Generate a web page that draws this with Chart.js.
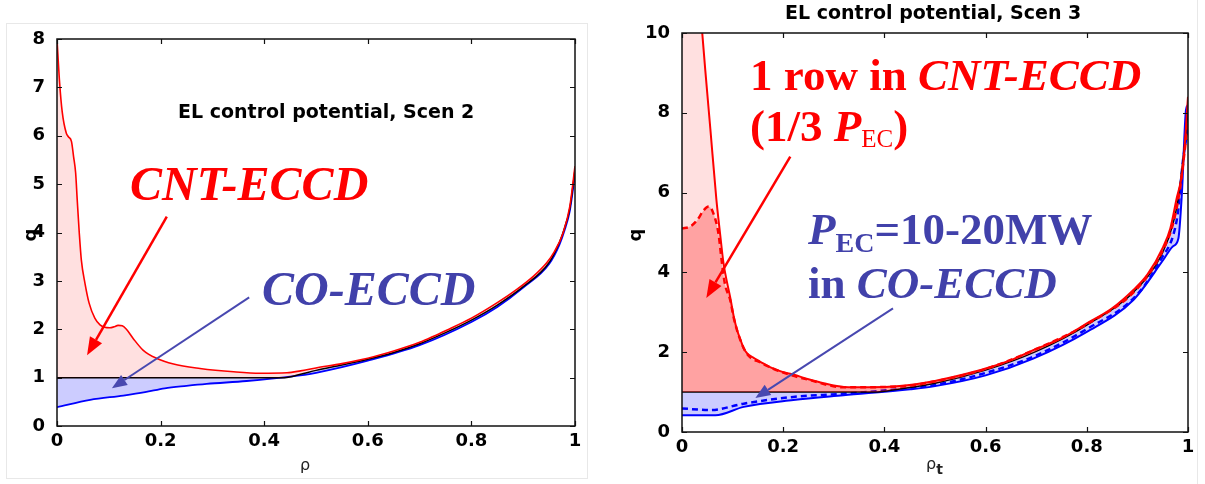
<!DOCTYPE html>
<html>
<head>
<meta charset="utf-8">
<script src="https://cdn.jsdelivr.net/npm/chart.js@4.4.1/dist/chart.umd.min.js"></script>
<style>
  html, body { margin: 0; padding: 0; background: #fff; }
  #wrap { position: relative; width: 1205px; height: 484px; overflow: hidden; background: #fff; }
  canvas { position: absolute; top: 0; }
  .t { position: absolute; white-space: nowrap; line-height: 1; z-index: 2; }
  .sans { font-family: "DejaVu Sans", sans-serif; font-weight: bold; color: #000; }
  .serif { font-family: "Liberation Serif", "Times New Roman", serif; font-weight: bold; }
  .red { color: #ff0000; }
  .blue { color: #4141aa; }
  .sub { line-height: 0; }
  .frame { position: absolute; border: 1px solid #e8e8e8; z-index: 0; }
</style>
</head>
<body>
<div id="wrap">
  <div class="frame" style="left:6px;top:23px;width:580px;height:454px;"></div>
  <div class="frame" style="left:1197px;top:0;width:0;height:484px;border-width:0 0 0 1px;"></div>

  <canvas id="scen2" width="600" height="484" style="left:0"></canvas>
  <canvas id="scen3" width="600" height="484" style="left:605px"></canvas>

  <!-- Scen 2 panel text -->
  <div class="t sans" style="left:178px;top:102px;font-size:19px;">EL control potential, Scen 2</div>
  <div class="t sans" style="left:10px;top:225px;width:40px;height:20px;line-height:20px;text-align:center;font-size:18px;transform:rotate(-90deg);">q</div>
  <div class="t" style="left:290px;top:457px;width:30px;text-align:center;font-family:'DejaVu Sans',sans-serif;font-size:16px;color:#222;">ρ</div>
  <div class="t serif red" style="left:130px;top:160px;font-size:48px;"><i>CNT-ECCD</i></div>
  <div class="t serif blue" style="left:262px;top:265px;font-size:48px;"><i>CO-ECCD</i></div>

  <!-- Scen 3 panel text -->
  <div class="t sans" style="left:785px;top:3px;font-size:19px;">EL control potential, Scen 3</div>
  <div class="t sans" style="left:615px;top:225px;width:40px;height:20px;line-height:20px;text-align:center;font-size:18px;transform:rotate(-90deg);">q</div>
  <div class="t" style="left:926px;top:456px;font-family:'DejaVu Sans',sans-serif;font-size:16px;color:#222;">ρ<span class="sub" style="font-weight:bold;font-size:14px;vertical-align:-5px;">t</span></div>
  <div class="t serif red" style="left:750px;top:53px;font-size:45px;">1 row in <i>CNT-ECCD</i></div>
  <div class="t serif red" style="left:750px;top:104px;font-size:45px;">(1/3 <i>P</i><span class="sub" style="font-weight:normal;font-size:25px;vertical-align:-6px;">EC</span>)</div>
  <div class="t serif blue" style="left:808px;top:207px;font-size:45px;"><i>P</i><span class="sub" style="font-size:28px;vertical-align:-8px;">EC</span>=10-20MW</div>
  <div class="t serif blue" style="left:808px;top:261px;font-size:45px;">in <i>CO-ECCD</i></div>
</div>

<script>
// ---- Tick values and labels ----
const xTickValues = [0, 0.2, 0.4, 0.6, 0.8, 1];
const xTickLabels = ['0', '0.2', '0.4', '0.6', '0.8', '1'];
const yTickValuesScen2 = [0, 1, 2, 3, 4, 5, 6, 7, 8];
const yTickLabelsScen2 = ['0', '1', '2', '3', '4', '5', '6', '7', '8'];
const yTickValuesScen3 = [0, 2, 4, 6, 8, 10];
const yTickLabelsScen3 = ['0', '2', '4', '6', '8', '10'];

// ---- Scen 2: q profiles vs rho ----
const rhoRefS2 = [0, 0.44, 0.47, 0.5, 0.55, 0.6, 0.65, 0.7, 0.75, 0.8, 0.85, 0.9, 0.95, 0.97, 0.98, 0.99, 1.0];
const qRefS2   = [1.0, 1.0, 1.07, 1.15, 1.26, 1.38, 1.52, 1.7, 1.93, 2.19, 2.5, 2.88, 3.38, 3.8, 4.1, 4.5, 5.3];

const rhoCntS2 = [0, 0.005, 0.010, 0.018, 0.022, 0.028, 0.032, 0.036, 0.039, 0.043, 0.047, 0.054, 0.062, 0.073, 0.083, 0.092, 0.102, 0.110, 0.118, 0.126, 0.134, 0.147, 0.166, 0.192, 0.225, 0.276, 0.341, 0.392, 0.444, 0.470, 0.500, 0.550, 0.600, 0.650, 0.700, 0.726, 0.750, 0.800, 0.850, 0.887, 0.920, 0.945, 0.960, 0.977, 0.990, 1.000];
const qCntS2   = [8.0, 7.1, 6.5, 6.05, 5.98, 5.88, 5.57, 5.23, 4.68, 3.99, 3.43, 2.95, 2.54, 2.23, 2.09, 2.04, 2.03, 2.05, 2.08, 2.07, 2.0, 1.81, 1.57, 1.40, 1.28, 1.19, 1.12, 1.09, 1.10, 1.14, 1.2, 1.29, 1.40, 1.55, 1.73, 1.85, 1.97, 2.23, 2.55, 2.82, 3.1, 3.37, 3.6, 3.99, 4.54, 5.37];

const rhoCoS2 = [0, 0.064, 0.128, 0.17, 0.208, 0.25, 0.289, 0.366, 0.45, 0.5, 0.6, 0.7, 0.8, 0.85, 0.9, 0.95, 0.97, 0.98, 0.99, 1.0];
const qCoS2   = [0.39, 0.54, 0.63, 0.7, 0.78, 0.83, 0.87, 0.93, 1.02, 1.1, 1.35, 1.67, 2.15, 2.46, 2.86, 3.35, 3.75, 4.05, 4.45, 5.2];

// ---- Scen 3: q profiles vs rho_t ----
const rhoRefS3 = [0, 0.38, 0.43, 0.5, 0.6, 0.7, 0.8, 0.9, 0.95, 0.97, 0.98, 0.99, 1.0];
const qRefS3   = [1.0, 1.0, 1.08, 1.22, 1.55, 2.02, 2.68, 3.6, 4.5, 5.2, 5.8, 6.8, 8.0];

const rhoCntS3 = [0, 0.03, 0.040, 0.046, 0.056, 0.068, 0.075, 0.082, 0.089, 0.095, 0.103, 0.109, 0.116, 0.122, 0.129, 0.14, 0.155, 0.175, 0.2, 0.22, 0.25, 0.28, 0.32, 0.368, 0.43, 0.5, 0.55, 0.6, 0.65, 0.694, 0.75, 0.8, 0.85, 0.892, 0.92, 0.951, 0.965, 0.977, 0.99, 1.0];
const qCntS3   = [16, 11.5, 10.0, 9.07, 7.6, 5.82, 5.0, 4.23, 3.75, 3.39, 2.85, 2.55, 2.3, 2.09, 1.97, 1.87, 1.76, 1.62, 1.5, 1.44, 1.32, 1.22, 1.13, 1.12, 1.15, 1.28, 1.42, 1.59, 1.8, 2.05, 2.35, 2.72, 3.1, 3.56, 3.95, 4.64, 5.1, 5.82, 6.65, 8.4];

const rhoCntDashS3 = [0, 0.016, 0.03, 0.043, 0.053, 0.062, 0.072, 0.079, 0.085, 0.095, 0.103, 0.116, 0.129, 0.155, 0.2, 0.25, 0.32, 0.43, 0.5, 0.6, 0.7, 0.8, 0.9, 0.95, 0.97, 0.983, 0.993, 1.0];
const qCntDashS3   = [5.1, 5.15, 5.31, 5.56, 5.65, 5.48, 4.98, 4.23, 3.7, 3.32, 2.82, 2.28, 1.95, 1.74, 1.49, 1.31, 1.12, 1.14, 1.27, 1.58, 2.08, 2.7, 3.6, 4.55, 5.2, 6.0, 7.0, 7.8];

const rhoCoS3 = [0, 0.066, 0.122, 0.22, 0.319, 0.451, 0.5, 0.6, 0.694, 0.8, 0.892, 0.951, 0.97, 0.981, 0.988, 0.996, 1.0];
const qCoS3   = [0.42, 0.42, 0.63, 0.8, 0.92, 1.07, 1.15, 1.42, 1.84, 2.51, 3.31, 4.31, 4.65, 4.85, 6.0, 8.07, 8.2];

const rhoCoDashS3 = [0, 0.056, 0.122, 0.22, 0.32, 0.45, 0.5, 0.6, 0.7, 0.8, 0.9, 0.95, 0.97, 0.98, 0.99, 1.0];
const qCoDashS3   = [0.59, 0.55, 0.71, 0.88, 0.96, 1.1, 1.18, 1.48, 1.92, 2.58, 3.45, 4.4, 4.9, 5.5, 6.8, 7.6];

const pts = (xs, ys) => xs.map((x, i) => ({ x, y: ys[i] }));

// Axes box with inward tick marks on all four sides, plus annotation arrows.
const axesBox = {
  id: 'axesBox',
  afterDatasetsDraw(chart, args, opts) {
    const { ctx, chartArea: a, scales: { x, y } } = chart;
    ctx.save();
    // arrows (given in data coordinates)
    (opts.arrows || []).forEach(ar => {
      const x0 = x.getPixelForValue(ar.from[0]), y0 = y.getPixelForValue(ar.from[1]);
      const x1 = x.getPixelForValue(ar.to[0]), y1 = y.getPixelForValue(ar.to[1]);
      const ang = Math.atan2(y1 - y0, x1 - x0);
      const hl = ar.headLength, hw = ar.headWidth;
      const bx = x1 - hl * Math.cos(ang), by = y1 - hl * Math.sin(ang);
      ctx.strokeStyle = ar.color; ctx.fillStyle = ar.color; ctx.lineWidth = ar.width;
      ctx.beginPath(); ctx.moveTo(x0, y0); ctx.lineTo(bx, by); ctx.stroke();
      ctx.beginPath();
      ctx.moveTo(x1, y1);
      ctx.lineTo(bx + hw * Math.sin(ang), by - hw * Math.cos(ang));
      ctx.lineTo(bx - hw * Math.sin(ang), by + hw * Math.cos(ang));
      ctx.closePath(); ctx.fill();
    });
    ctx.strokeStyle = '#111';
    ctx.lineWidth = 1.5;
    ctx.strokeRect(a.left, a.top, a.right - a.left, a.bottom - a.top);
    ctx.lineWidth = 1.2;
    const L = 5;
    ctx.beginPath();
    x.ticks.forEach(t => {
      const px = Math.round(x.getPixelForValue(t.value)) + 0.5;
      ctx.moveTo(px, a.bottom); ctx.lineTo(px, a.bottom - L);
      ctx.moveTo(px, a.top); ctx.lineTo(px, a.top + L);
    });
    y.ticks.forEach(t => {
      const py = Math.round(y.getPixelForValue(t.value)) + 0.5;
      ctx.moveTo(a.left, py); ctx.lineTo(a.left + L, py);
      ctx.moveTo(a.right, py); ctx.lineTo(a.right - L, py);
    });
    ctx.stroke();
    ctx.restore();
  }
};

const tickFont = { family: 'DejaVu Sans', weight: 'bold', size: 18 };

function makeScales(yMax, yVals, yLabels, yWidth, xHeight) {
  return {
    x: {
      type: 'linear', min: 0, max: 1,
      grid: { display: false }, border: { display: false },
      afterBuildTicks: s => { s.ticks = xTickValues.map(v => ({ value: v })); },
      afterFit: s => { s.height = xHeight; },
      ticks: { font: tickFont, color: '#000', padding: -3, maxRotation: 0,
               callback: (v, i) => xTickLabels[i] }
    },
    y: {
      type: 'linear', min: 0, max: yMax,
      grid: { display: false }, border: { display: false },
      afterBuildTicks: s => { s.ticks = yVals.map(v => ({ value: v })); },
      afterFit: s => { s.width = yWidth; },
      ticks: { font: tickFont, color: '#000', padding: 4,
               callback: (v, i) => yLabels[i] }
    }
  };
}

const common = {
  responsive: false, animation: false, devicePixelRatio: 1,
  elements: { point: { radius: 0, hoverRadius: 0 }, line: { cubicInterpolationMode: 'monotone', borderJoinStyle: 'round' } },
  events: []
};

new Chart(document.getElementById('scen2'), {
  type: 'line',
  data: {
    datasets: [
      { label: 'reference', data: pts(rhoRefS2, qRefS2), borderColor: '#000', borderWidth: 1.5, fill: false, order: 2 },
      { label: 'CNT-ECCD', data: pts(rhoCntS2, qCntS2), borderColor: '#ff0000', borderWidth: 1.6, order: 1,
        fill: { target: 0, above: 'rgba(255,0,0,0.12)', below: 'rgba(0,0,0,0)' } },
      { label: 'CO-ECCD', data: pts(rhoCoS2, qCoS2), borderColor: '#0000ff', borderWidth: 1.8, order: 3,
        fill: { target: 0, above: 'rgba(0,0,0,0)', below: 'rgba(0,0,255,0.2)' } }
    ]
  },
  options: Object.assign({}, common, {
    layout: { padding: { left: 0, top: 39, right: 25, bottom: 0 } },
    scales: makeScales(8, yTickValuesScen2, yTickLabelsScen2, 57, 58),
    plugins: {
      legend: { display: false }, tooltip: { enabled: false },
      axesBox: { arrows: [
        { from: [0.212, 4.33], to: [0.058, 1.46], color: '#ff0000', width: 2.5, headLength: 18, headWidth: 7 },
        { from: [0.371, 2.66], to: [0.106, 0.78], color: '#4848b0', width: 2, headLength: 15, headWidth: 6 }
      ] }
    }
  }),
  plugins: [axesBox]
});

new Chart(document.getElementById('scen3'), {
  type: 'line',
  data: {
    datasets: [
      { label: 'reference', data: pts(rhoRefS3, qRefS3), borderColor: '#000', borderWidth: 1.5, fill: false, order: 2 },
      { label: 'CNT-ECCD 1 row', data: pts(rhoCntS3, qCntS3), borderColor: '#ff0000', borderWidth: 2, order: 1,
        fill: { target: 0, above: 'rgba(255,0,0,0.12)', below: 'rgba(0,0,0,0)' } },
      { label: 'CNT-ECCD 1 row (alt)', data: pts(rhoCntDashS3, qCntDashS3), borderColor: '#ff0000', borderWidth: 2.5, borderDash: [6, 4], order: 0,
        fill: { target: 0, above: 'rgba(255,0,0,0.28)', below: 'rgba(0,0,0,0)' } },
      { label: 'CO-ECCD', data: pts(rhoCoS3, qCoS3), borderColor: '#0000ff', borderWidth: 2, order: 4,
        fill: { target: 0, above: 'rgba(0,0,0,0)', below: 'rgba(0,0,255,0.2)' } },
      { label: 'CO-ECCD (alt)', data: pts(rhoCoDashS3, qCoDashS3), borderColor: '#0000ff', borderWidth: 2.5, borderDash: [6, 4], order: 3, fill: false }
    ]
  },
  options: Object.assign({}, common, {
    layout: { padding: { left: 0, top: 33, right: 17, bottom: 0 } },
    scales: makeScales(10, yTickValuesScen3, yTickLabelsScen3, 77, 52),
    plugins: {
      legend: { display: false }, tooltip: { enabled: false },
      axesBox: { arrows: [
        { from: [0.214, 6.9], to: [0.048, 3.36], color: '#ff0000', width: 2.5, headLength: 18, headWidth: 7 },
        { from: [0.417, 3.10], to: [0.145, 0.85], color: '#4848b0', width: 2, headLength: 15, headWidth: 6 }
      ] }
    }
  }),
  plugins: [axesBox]
});
</script>
</body>
</html>
